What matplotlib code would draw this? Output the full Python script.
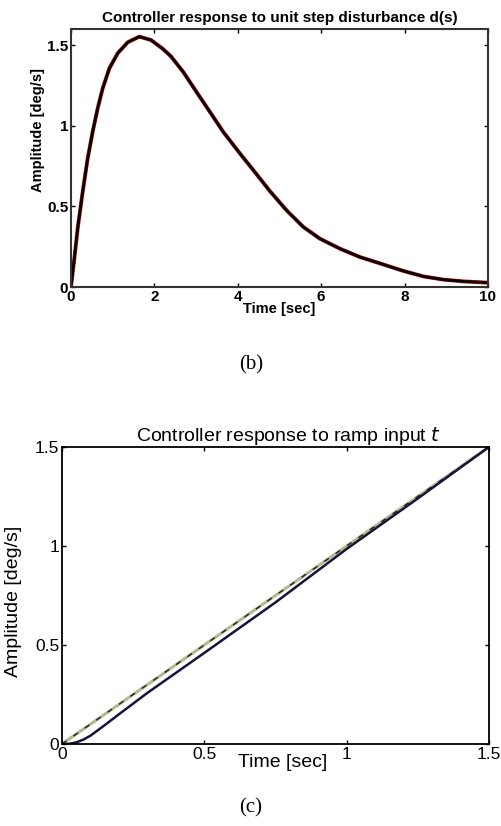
import numpy as np
import matplotlib
matplotlib.use("Agg")
import matplotlib.pyplot as plt

plt.rcParams['font.family'] = ['Liberation Sans', 'DejaVu Sans']

# (b) controller response to unit step disturbance d(s)
t_step = [0, 0.08, 0.16, 0.28, 0.40, 0.52, 0.64, 0.76, 0.92, 1.12, 1.36, 1.64,
          1.92, 2.2, 2.4, 2.69, 3.01, 3.33, 3.65, 4.05, 4.45, 4.77, 5.17, 5.57,
          5.97, 6.45, 6.93, 7.37, 7.97, 8.45, 8.93, 9.41, 10.0]
y_step = [0, 0.176, 0.363, 0.59, 0.797, 0.963, 1.108, 1.232, 1.356, 1.45, 1.518, 1.553,
          1.532, 1.478, 1.43, 1.335, 1.21, 1.087, 0.963, 0.829, 0.70, 0.595, 0.476, 0.373,
          0.30, 0.238, 0.186, 0.15, 0.10, 0.066, 0.046, 0.035, 0.027]

# (c) controller response to ramp input t
t_ramp = [0, 0.025, 0.05, 0.075, 0.1, 0.15, 0.2, 0.3, 0.5, 0.75, 1.0, 1.25, 1.5]
y_ramp = [0, 0.001, 0.008, 0.022, 0.042, 0.095, 0.15, 0.258, 0.46, 0.715, 0.985, 1.24, 1.5]
t_ref = [0, 0.5, 1.0, 1.5]
y_ref = [0, 0.5, 1.0, 1.5]

fig = plt.figure(figsize=(5.02, 8.26), dpi=100)

# top plot
ax1 = fig.add_axes([0.1414, 0.6525, 0.8306, 0.3123])
ax1.plot(t_step, y_step, color='#d01010', lw=2.8, solid_joinstyle='round')
ax1.plot(t_step, y_step, color='black', lw=2.0, solid_joinstyle='round')
ax1.set_xlim(0, 10)
ax1.set_ylim(0, 1.6)
ax1.set_xticks([0, 2, 4, 6, 8, 10])
ax1.set_yticks([0, 0.5, 1, 1.5])
ax1.set_yticklabels(['0', '0.5', '1', '1.5'])
ax1.tick_params(direction='in', length=3, width=1, top=True, right=True,
                labelsize=11, pad=2)
for lab in ax1.get_xticklabels() + ax1.get_yticklabels():
    lab.set_fontweight('bold')
for sp in ax1.spines.values():
    sp.set_linewidth(1.5)
    sp.set_color('#333333')
ax1.set_title('Controller response to unit step disturbance d(s)',
              fontsize=11, fontweight='bold', pad=5)
ax1.set_xlabel('Time [sec]', fontsize=10.5, fontweight='bold', labelpad=-1)
ax1.set_ylabel('Amplitude [deg/s]', fontsize=10.5, fontweight='bold')
ax1.yaxis.set_label_coords(-0.062, 0.61)

# bottom plot
ax2 = fig.add_axes([0.1235, 0.0993, 0.8506, 0.3596])
ax2.plot(t_ref, y_ref, color='#b8b890', lw=2.2)
ax2.plot(t_ref, y_ref, color='#222222', lw=1.0, ls=(0, (4, 6)))
ax2.plot(t_ramp, y_ramp, color='#14143c', lw=1.8, solid_joinstyle='round')
ax2.set_xlim(0, 1.5)
ax2.set_ylim(0, 1.5)
ax2.set_xticks([0, 0.5, 1, 1.5])
ax2.set_xticklabels(['0', '0.5', '1', '1.5'])
ax2.set_yticks([0, 0.5, 1, 1.5])
ax2.set_yticklabels(['0', '0.5', '1', '1.5'])
ax2.tick_params(direction='in', length=3, width=1, top=True, right=True,
                labelsize=12.5, pad=2)
for sp in ax2.spines.values():
    sp.set_linewidth(1.3)
ax2.set_title('Controller response to ramp input $t$', fontsize=14, pad=4, x=0.53)
ax2.set_xlabel('Time [sec]', fontsize=14)
ax2.xaxis.set_label_coords(0.517, -0.035)
ax2.set_ylabel('Amplitude [deg/s]', fontsize=14)
ax2.yaxis.set_label_coords(-0.094, 0.48)

fig.text(0.5, 1 - 365 / 826, '(b)', ha='center', va='center',
         fontsize=15, family='Liberation Serif')
fig.text(0.5, 1 - 808 / 826, '(c)', ha='center', va='center',
         fontsize=15, family='Liberation Serif')

fig.savefig('out.png', dpi=100, facecolor='white')
